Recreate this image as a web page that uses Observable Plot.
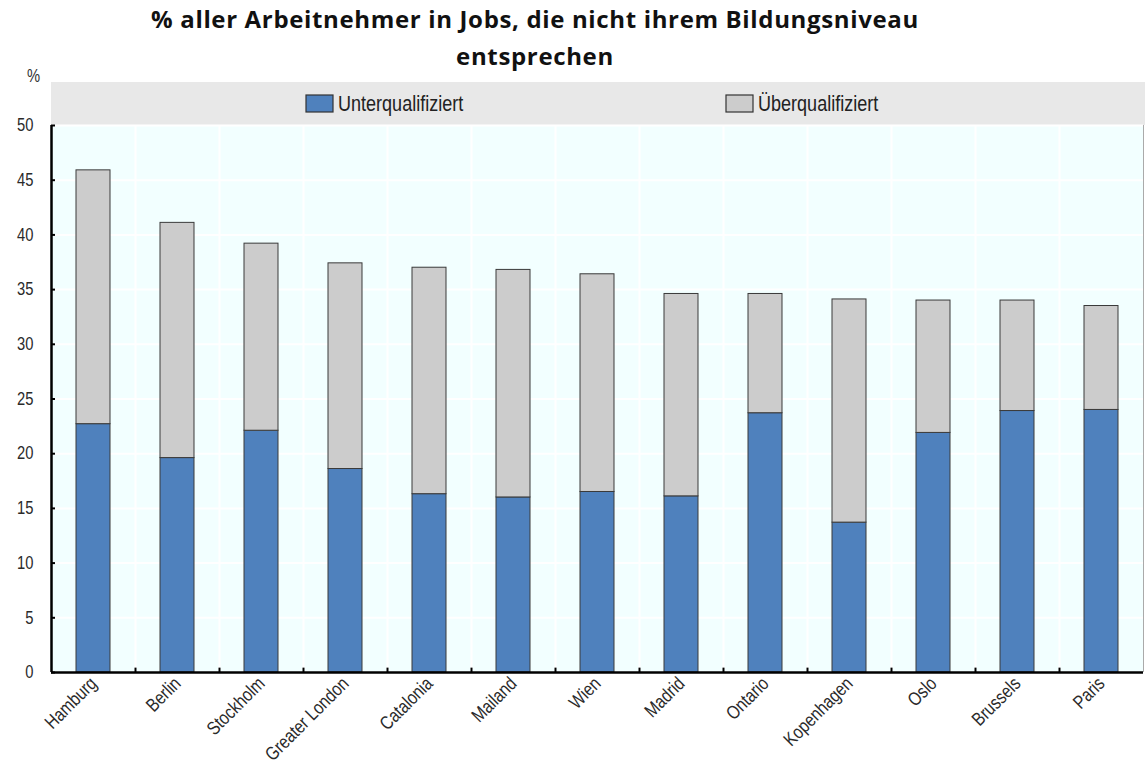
<!DOCTYPE html>
<html><head><meta charset="utf-8">
<script src="https://cdn.jsdelivr.net/npm/d3@7"></script>
<script src="https://cdn.jsdelivr.net/npm/@observablehq/plot@0.6"></script>
<style>
body{margin:0;background:#fff;}
#title{font-family:"Open Sans",sans-serif;font-weight:700;font-size:24px;letter-spacing:0.65px;text-align:center;width:1070px;height:66px;line-height:37px;padding-top:0;box-sizing:border-box;color:#111;white-space:nowrap}
svg{display:block}
</style></head><body>
<div id="title">% aller Arbeitnehmer in Jobs, die nicht ihrem Bildungsniveau<br>entsprechen</div>
<div id="chart"></div>
<script>
const cities = ["Hamburg","Berlin","Stockholm","Greater London","Catalonia","Mailand","Wien","Madrid","Ontario","Kopenhagen","Oslo","Brussels","Paris"];
const under = [22.7,19.6,22.1,18.6,16.3,16.0,16.5,16.1,23.7,13.7,21.9,23.9,24.0];
const over  = [23.2,21.5,17.1,18.8,20.7,20.8,19.9,18.5,10.9,20.4,12.1,10.1,9.5];
const seriesNames = ["Unterqualifiziert","Überqualifiziert"];
const seriesColors = ["#4f81bd","#cccccc"];
const yTicks = [0,5,10,15,20,25,30,35,40,45,50];

const rows = cities.flatMap((c,i)=>[
  {city:c, type:seriesNames[0], value:under[i]},
  {city:c, type:seriesNames[1], value:over[i]}
]);

const FONT = '"Liberation Sans",Arial,sans-serif';
const NARROW = " scale(0.82,1)";
const W = 1145, H = 696;
const plot = Plot.plot({
  width: W, height: H,
  marginTop: 59, marginBottom: 90, marginLeft: 51, marginRight: 2,
  style: {fontFamily: FONT, color: "#2a2a2a", background: "transparent"},
  x: {domain: cities, paddingInner: 0.6, paddingOuter: 0.3, label: null},
  y: {domain: [0,50], label: null},
  color: {domain: seriesNames, range: seriesColors},
  marks: [
    Plot.frame({fill: "#f2ffff", stroke: null}),
    Plot.ruleY(yTicks, {stroke: "white", strokeWidth: 2}),
    Plot.ruleX(cities.slice(0,-1), {dx: 42, stroke: "white", strokeWidth: 2}),
    Plot.ruleX(cities.slice(-1), {dx: 42, stroke: "#aaa", strokeWidth: 1}),
    Plot.barY(rows, {x: "city", y: "value", fill: "type", stroke: "#3a3a3a", strokeWidth: 1}),
    Plot.ruleX(cities.slice(0,-1), {dx: 42, y1: 0, y2: 0.4, stroke: "black", strokeWidth: 2}),
    Plot.ruleY([0], {stroke: "black", strokeWidth: 2.5}),
    Plot.ruleX([cities[0]], {dx: -42, y1: 0, y2: 50, stroke: "black", strokeWidth: 2.5}),
    Plot.axisY({ticks: yTicks, tickSize: -4, tickFormat: () => "", stroke: "black", strokeWidth: 2}),
    Plot.axisY({ticks: yTicks, tickSize: 0, tickPadding: 18, fontSize: 18, label: null}),
    Plot.axisX({tickSize: 0, tickRotate: -45, tickPadding: 8, fontSize: 19, label: null})
  ]
});
document.getElementById("chart").appendChild(plot);

const svg = d3.select(plot);
// condensed look for axis labels
svg.selectAll('g[aria-label="x-axis tick label"] text, g[aria-label="y-axis tick label"] text')
  .attr("transform", function(){ return (this.getAttribute("transform") || "") + NARROW; });

// legend band
svg.insert("rect", ":first-child").attr("x", 51).attr("y", 16).attr("width", W - 51).attr("height", 43).attr("fill", "#e8e8e8");
svg.append("text").attr("transform", "translate(40,16)" + NARROW).attr("text-anchor", "end")
  .style("font-family", FONT).style("font-size", "18px").attr("fill", "#333").text("%");
const legX = [306, 726];
seriesNames.forEach((n,i)=>{
  svg.append("rect").attr("x", legX[i]).attr("y", 29).attr("width", 27).attr("height", 17)
    .attr("fill", seriesColors[i]).attr("stroke", "#333").attr("stroke-width", 1.2);
  svg.append("text").attr("transform", `translate(${legX[i] + 32},45)` + NARROW)
    .attr("text-anchor", "start")
    .style("font-family", FONT).style("font-size", "22px").attr("fill", "#222").text(n);
});
</script>
</body></html>
